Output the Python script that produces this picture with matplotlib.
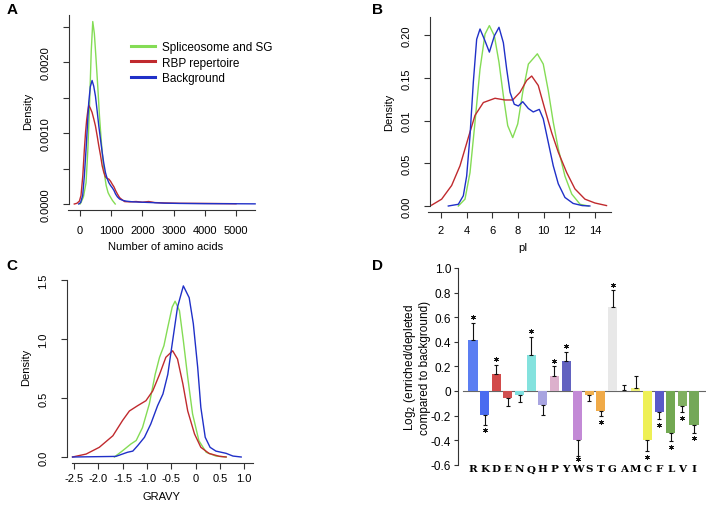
import matplotlib
matplotlib.use("Agg")
import matplotlib.pyplot as plt
from matplotlib.lines import Line2D

plt.rcParams['font.family'] = ['Liberation Sans', 'DejaVu Sans']

# ---------------- data ----------------
# Panel A: number of amino acids (density curves)
a_green_x = [0, 32, 110, 194, 250, 301, 360, 409, 460, 516, 570, 624, 680, 731, 790, 839, 900, 946, 1040, 1129]
a_green_y = [0, 0.00002, 0.00010, 0.00030, 0.00075, 0.00133, 0.00215, 0.00257, 0.00240, 0.00203, 0.00165,
             0.00124, 0.00090, 0.00063, 0.00040, 0.00026, 0.00016, 0.00012, 0.00005, 0]
a_blue_x = [-43, 20, 86, 140, 194, 240, 280, 330, 387, 440, 495, 550, 602, 660, 710, 760, 817, 870, 925, 980,
            1032, 1090, 1140, 1200, 1269, 1380, 1484, 1700, 2000, 2300, 2700, 3200, 4000, 4800, 5613]
a_blue_y = [0, 0.00002, 0.00012, 0.00040, 0.00077, 0.00112, 0.00143, 0.00165, 0.00174, 0.00166, 0.00152,
            0.00131, 0.00110, 0.00090, 0.00073, 0.00058, 0.00044, 0.00036, 0.00030, 0.00026,
            0.00023, 0.00019, 0.00014, 0.00010, 0.00007, 0.00005, 0.00004, 0.00003, 0.000025, 0.00002,
            0.000012, 0.000008, 0.000005, 0.000004, 0.000002]
a_red_x = [-183, -100, -20, 32, 90, 140, 180, 215, 250, 280, 330, 387, 440, 495, 550, 602, 660, 710, 760,
           817, 870, 925, 980, 1032, 1090, 1140, 1200, 1269, 1350, 1430, 1600, 1800, 2000, 2200, 2400,
           2700, 3200, 4000, 5000]
a_red_y = [0, 0.00001, 0.00004, 0.00012, 0.00040, 0.00077, 0.00102, 0.00119, 0.00131, 0.00139, 0.00135,
           0.00129, 0.00120, 0.00110, 0.00096, 0.00082, 0.00068, 0.00054, 0.00045,
           0.00038, 0.00036, 0.00035, 0.00032, 0.00028, 0.00024, 0.00019, 0.00014, 0.00009, 0.00006,
           0.000034, 0.000030, 0.000035, 0.000025, 0.000035, 0.00002, 0.000015, 0.00001, 0.000008, 0.000004]

# Panel B: pI
b_blue_x = [2.57, 3.35, 3.74, 4.0, 4.26, 4.52, 4.78, 5.04, 5.38, 5.77, 6.16, 6.52, 6.86, 7.12, 7.38, 7.71,
            8.03, 8.37, 8.81, 9.19, 9.66, 9.97, 10.36, 10.75, 11.14, 11.66, 12.3, 13.0, 13.6]
b_blue_y = [0, 0.002, 0.012, 0.035, 0.082, 0.145, 0.195, 0.207, 0.195, 0.180, 0.199, 0.209, 0.191, 0.160,
            0.133, 0.119, 0.117, 0.122, 0.114, 0.110, 0.113, 0.102, 0.0745, 0.047, 0.026, 0.010,
            0.003, 0.0005, 0]
b_green_x = [3.35, 3.87, 4.26, 4.65, 5.04, 5.43, 5.77, 6.16, 6.52, 6.86, 7.2, 7.59, 7.98, 8.37, 8.81,
             9.51, 9.97, 10.36, 10.75, 11.14, 11.66, 12.19, 12.84, 13.49]
b_green_y = [0, 0.008, 0.039, 0.098, 0.160, 0.201, 0.211, 0.199, 0.168, 0.129, 0.094, 0.080, 0.096,
             0.133, 0.166, 0.178, 0.166, 0.135, 0.098, 0.067, 0.035, 0.014, 0.002, 0]
b_red_x = [1.27, 2.05, 2.83, 3.48, 4.13, 4.65, 5.3, 6.21, 6.99, 7.59, 8.16, 8.68, 9.07, 9.58, 10.1,
           10.62, 11.14, 11.8, 12.44, 13.22, 14.0, 14.9]
b_red_y = [0.001, 0.008, 0.024, 0.047, 0.080, 0.106, 0.121, 0.126, 0.124, 0.124, 0.133, 0.147, 0.152,
           0.141, 0.113, 0.086, 0.063, 0.039, 0.020, 0.008, 0.0035, 0.0005]

# Panel C: GRAVY
c_blue_x = [-2.53, -1.64, -1.4, -1.29, -1.19, -1.05, -0.92, -0.78, -0.67, -0.57, -0.47, -0.37, -0.25,
            -0.13, -0.045, 0.045, 0.11, 0.20, 0.30, 0.42, 0.63, 0.77, 0.94]
c_blue_y = [0, 0.005, 0.04, 0.05, 0.096, 0.167, 0.28, 0.435, 0.534, 0.70, 0.986, 1.27, 1.45, 1.35, 1.13,
            0.76, 0.42, 0.167, 0.082, 0.05, 0.031, 0.008, 0]
c_green_x = [-1.67, -1.5, -1.33, -1.22, -1.09, -0.95, -0.83, -0.74, -0.65, -0.57, -0.48, -0.42, -0.33,
             -0.25, -0.16, -0.06, 0.07, 0.22, 0.42, 0.63]
c_green_y = [0, 0.053, 0.11, 0.14, 0.25, 0.45, 0.70, 0.845, 0.943, 1.10, 1.27, 1.32, 1.24, 0.986, 0.675,
             0.364, 0.138, 0.04, 0.008, 0]
c_red_x = [-2.53, -2.25, -1.98, -1.70, -1.5, -1.36, -1.19, -1.02, -0.88, -0.74, -0.61, -0.47, -0.37,
           -0.26, -0.16, -0.02, 0.11, 0.28, 0.49, 0.63]
c_red_y = [0, 0.025, 0.082, 0.18, 0.31, 0.39, 0.435, 0.477, 0.56, 0.70, 0.845, 0.90, 0.83, 0.62, 0.39,
           0.195, 0.082, 0.03, 0.006, 0]

# Panel D: amino acid enrichment
aa = ['R', 'K', 'D', 'E', 'N', 'Q', 'H', 'P', 'Y', 'W', 'S', 'T', 'G', 'A', 'M', 'C', 'F', 'L', 'V', 'I']
aa_val = [0.414, -0.195, 0.135, -0.057, -0.030, 0.293, -0.117, 0.125, 0.247, -0.398, -0.035, -0.163,
          0.680, 0.005, 0.022, -0.398, -0.173, -0.344, -0.125, -0.279]
aa_err = [0.139, 0.079, 0.079, 0.065, 0.059, 0.148, 0.078, 0.075, 0.070, 0.128, 0.046, 0.043,
          0.138, 0.041, 0.097, 0.090, 0.055, 0.065, 0.048, 0.062]
aa_sig = [True, True, True, False, False, True, False, True, True, True, False, True,
          True, False, False, True, True, True, True, True]
aa_col = ['#5b7ef2', '#4a6cf0', '#d24a4a', '#d05050', '#7ee0e0', '#84e2de', '#a8a4e0', '#dcb0cc',
          '#6262c0', '#c38ad6', '#f0b050', '#f0aa48', '#e8e8e8', '#f4f4f4', '#eef078', '#eef055',
          '#5a5ac8', '#72a852', '#80b060', '#74a858']

legend_labels = ['Spliceosome and SG', 'RBP repertoire', 'Background']
GREEN, RED, BLUE = '#84dc55', '#c02a2e', '#2030c8'

# ---------------- figure ----------------
W, H = 709, 506
fig = plt.figure(figsize=(W / 100, H / 100), dpi=100)
AX_COL = '#333333'
FS = 8


def px_axes(l, t, r, b):
    return fig.add_axes([l / W, 1 - b / H, (r - l) / W, (b - t) / H])


def style(ax, xpad, ypad=9):
    for s in ['top', 'right']:
        ax.spines[s].set_visible(False)
    for s in ['left', 'bottom']:
        ax.spines[s].set_color(AX_COL)
        ax.spines[s].set_linewidth(0.8)
    ax.tick_params(direction='out', length=4.3, width=0.8, color=AX_COL, labelsize=FS)
    ax.tick_params(axis='x', pad=xpad)
    ax.tick_params(axis='y', pad=ypad)
    ax.patch.set_alpha(0)


lw = 1.0

# ---- Panel A ----
axA = px_axes(69, 12, 262, 211)
style(axA, xpad=6.5)
fx = lambda p: (p - 80) / 0.0312
fy = lambda p: (205 - p) / 71000
axA.set_xlim(fx(69), fx(262))
axA.set_ylim(fy(211), fy(12))
axA.plot(a_green_x, a_green_y, color=GREEN, lw=lw)
axA.plot(a_red_x, a_red_y, color=RED, lw=lw)
axA.plot(a_blue_x, a_blue_y, color=BLUE, lw=lw)
axA.spines['left'].set_bounds(0, 0.00266)
axA.spines['bottom'].set_bounds(fx(68), 5600)
axA.set_xticks([0, 1000, 2000, 3000, 4000, 5000])
axA.set_yticks([0, 0.0005, 0.001, 0.0015, 0.002, 0.0025])
axA.set_yticklabels(['0.0000', '', '0.0010', '', '0.0020', ''], rotation=90, va='center')
axA.set_xlabel('Number of amino acids', fontsize=FS, labelpad=4)
axA.set_ylabel('Density', fontsize=FS, labelpad=5)
handles = [Line2D([], [], color=c, lw=2.2) for c in (GREEN, RED, BLUE)]
fig.legend(handles, legend_labels, loc='upper left', bbox_to_anchor=(131 / W, 1 - 42 / H),
           frameon=False, fontsize=8.5, handlelength=2.0, handletextpad=0.6, labelspacing=0.3,
           borderpad=0, borderaxespad=0)

# ---- Panel B ----
axB = px_axes(430, 12, 615, 213)
style(axB, xpad=5)
gx = lambda p: (p - 441) / 12.83 + 2
gy = lambda p: (207 - p) / 855
axB.set_xlim(gx(430), gx(615))
axB.set_ylim(gy(213), gy(12))
axB.plot(b_green_x, b_green_y, color=GREEN, lw=lw)
axB.plot(b_red_x, b_red_y, color=RED, lw=lw)
axB.plot(b_blue_x, b_blue_y, color=BLUE, lw=lw)
axB.spines['left'].set_bounds(0, gy(18))
axB.spines['bottom'].set_bounds(gx(428), gx(611))
axB.set_xticks([2, 4, 6, 8, 10, 12, 14])
axB.set_yticks([0, 0.05, 0.10, 0.15, 0.20])
axB.set_yticklabels(['0.00', '0.05', '0.01', '0.15', '0.20'], rotation=90, va='center')
axB.set_xlabel('pI', fontsize=FS, labelpad=5)
axB.set_ylabel('Density', fontsize=FS, labelpad=5)

# ---- Panel C ----
axC = px_axes(67, 270, 256, 464)
style(axC, xpad=3.0)
hx = lambda p: (p - 74) / 48.6 - 2.5
hy = lambda p: (458 - p) / 118
axC.set_xlim(hx(67), hx(256))
axC.set_ylim(hy(464), hy(270))
axC.plot(c_green_x, c_green_y, color=GREEN, lw=lw)
axC.plot(c_red_x, c_red_y, color=RED, lw=lw)
axC.plot(c_blue_x, c_blue_y, color=BLUE, lw=lw)
axC.spines['left'].set_bounds(0, 1.5)
axC.spines['bottom'].set_bounds(hx(72), hx(253))
axC.set_xticks([-2.5, -2.0, -1.5, -1.0, -0.5, 0, 0.5, 1.0])
axC.set_xticklabels(['-2.5', '-2.0', '-1.5', '-1.0', '-0.5', '0', '0.5', '1.0'])
axC.set_yticks([0, 0.5, 1.0, 1.5])
axC.set_yticklabels(['0.0', '0.5', '1.0', '1.5'], rotation=90, va='center')
axC.set_xlabel('GRAVY', fontsize=FS, labelpad=6)
axC.set_ylabel('Density', fontsize=FS, labelpad=5)

# ---- Panel D ----
axD = px_axes(458, 265, 706, 470)
style(axD, xpad=2, ypad=2)
axD.tick_params(axis='y', length=3)
STEP = 11.63
kx = lambda p: (p - 473) / STEP
ky = lambda p: (392 - p) / 123
axD.set_xlim(kx(458), kx(706))
axD.set_ylim(ky(470), ky(265))
axD.spines['bottom'].set_visible(False)
axD.spines['left'].set_bounds(-0.6, 1.0)
xs = list(range(len(aa)))
axD.axhline(0, xmin=(463 - 458) / 248, xmax=(705 - 458) / 248, color='#666666', lw=0.8, zorder=1)
axD.bar(xs, aa_val, width=0.78, color=aa_col, edgecolor='none', zorder=2)
star_x, star_y = [], []
for i, (v, e, s) in enumerate(zip(aa_val, aa_err, aa_sig)):
    if v >= 0:
        yerr = [[0], [e]]
    else:
        yerr = [[e], [0]]
    axD.errorbar([i], [v], yerr=yerr, fmt='none', ecolor='#111111', elinewidth=0.8,
                 capsize=1.5, capthick=0.8, zorder=3)
    if s:
        star_x.append(i)
        star_y.append(v + e + 0.045 if v >= 0 else max(v - e - 0.045, -0.556))
axD.plot(star_x, star_y, linestyle='none', marker=(6, 2, 0), ms=3.6, mew=0.6, color='#111111',
         zorder=4)
axD.set_xticks([])
axD.set_yticks([1.0, 0.8, 0.6, 0.4, 0.2, 0, -0.2, -0.4, -0.6])
axD.set_yticklabels(['1.0', '0.8', '0.6', '0.4', '0.2', '0', '-0.2', '-0.4', '-0.6'])
axD.tick_params(axis='y', labelsize=8.5)
for i, a in enumerate(aa):
    axD.text(i, ky(470), a, ha='center', va='center', fontsize=7.5, fontweight='bold',
             family='DejaVu Serif')
axD.set_ylabel('Log$_2$ (enriched/depleted\ncompared to background)', fontsize=8.5,
               labelpad=0, linespacing=1.05)

# panel letters
for lab, x, y in [('A', 12, 10), ('B', 378, 10), ('C', 12, 266), ('D', 378, 266)]:
    fig.text(x / W, 1 - y / H, lab, fontsize=11, fontweight='bold', ha='center', va='center')

fig.savefig('out.png', dpi=100)
